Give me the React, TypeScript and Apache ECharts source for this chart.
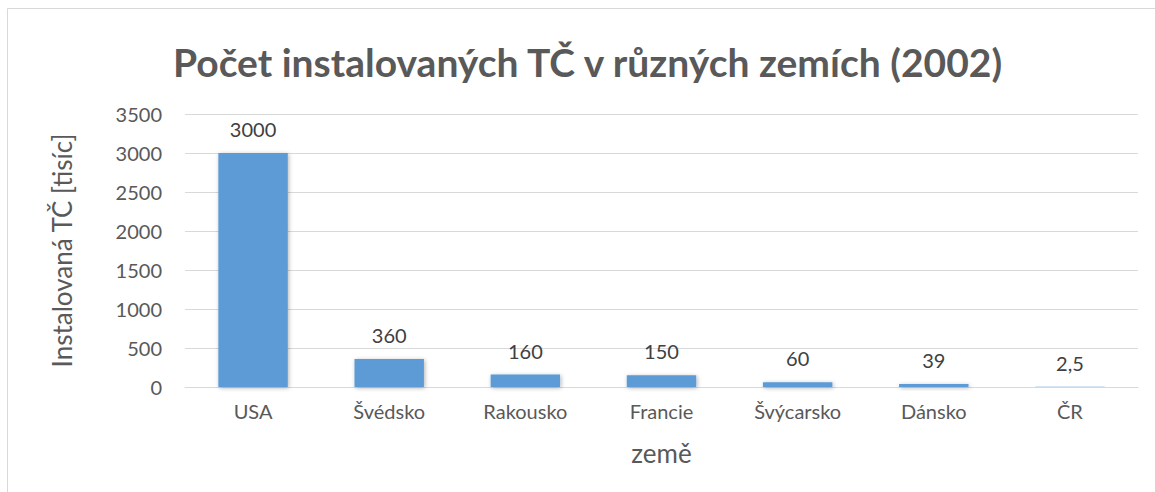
import React, { useEffect, useRef } from "react";
import * as echarts from "echarts";

const categories = ["USA", "Švédsko", "Rakousko", "Francie", "Švýcarsko", "Dánsko", "ČR"];
const values = [3000, 360, 160, 150, 60, 39, 2.5];
const titleText = "Počet instalovaných TČ v různých zemích (2002)";
const yName = "Instalovaná TČ [tisíc]";
const xName = "země";

const FONT = "Lato, 'Open Sans', sans-serif";

export default function App() {
  const ref = useRef<HTMLDivElement>(null);
  useEffect(() => {
    if (!ref.current) return;
    const chart = echarts.init(ref.current, undefined, { renderer: "svg" });
    chart.setOption({
      animation: false,
      backgroundColor: "#ffffff",
      textStyle: { fontFamily: FONT },
      title: {
        text: titleText,
        left: 168,
        top: 37,
        textStyle: { fontFamily: FONT, fontSize: 39, fontWeight: "bold", color: "#595959" },
      },
      graphic: [
        {
          type: "rect",
          shape: { x: 7.5, y: 8.5, width: 1170, height: 500 },
          style: { fill: "none", stroke: "#d9d9d9", lineWidth: 1 },
          silent: true,
        },
      ],
      grid: { left: 185, right: 17, top: 114, bottom: 105, containLabel: false },
      xAxis: {
        type: "category",
        data: categories,
        name: xName,
        nameLocation: "middle",
        nameGap: 53,
        nameTextStyle: { fontFamily: FONT, fontSize: 26, color: "#595959" },
        axisLine: { lineStyle: { color: "#d9d9d9" } },
        axisTick: { show: false },
        axisLabel: { fontFamily: FONT, fontSize: 20, color: "#595959", margin: 14 },
      },
      yAxis: {
        type: "value",
        min: 0,
        max: 3500,
        interval: 500,
        name: yName,
        nameLocation: "middle",
        nameGap: 110,
        nameTextStyle: { fontFamily: FONT, fontSize: 26, color: "#595959" },
        axisLine: { show: false },
        axisTick: { show: false },
        axisLabel: {
          fontFamily: FONT,
          fontSize: 20,
          color: "#595959",
          margin: 23,
          formatter: (v: number) => String(v),
        },
        splitLine: { lineStyle: { color: "#d9d9d9", width: 1 } },
      },
      series: [
        {
          type: "bar",
          data: values,
          barWidth: "51%",
          itemStyle: {
            color: "#5b9bd5",
            shadowBlur: 4,
            shadowColor: "rgba(0,0,0,0.3)",
            shadowOffsetX: 1,
            shadowOffsetY: 1,
          },
          label: {
            show: true,
            position: "top",
            distance: 14,
            fontFamily: FONT,
            fontSize: 20,
            color: "#404040",
            formatter: (p: any) => String(p.value).replace(".", ","),
          },
        },
      ],
    });
    return () => chart.dispose();
  }, []);
  return (
    <div
      ref={ref}
      style={{ position: "fixed", left: 0, top: 0, width: 1155, height: 492 }}
    />
  );
}
